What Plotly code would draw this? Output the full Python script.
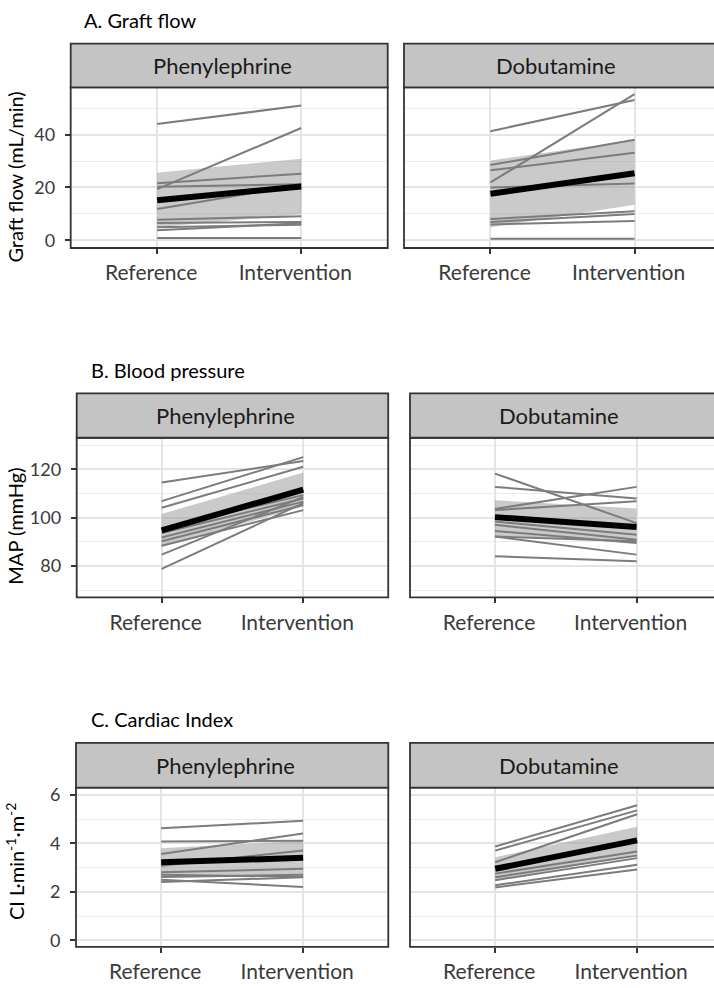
import plotly.graph_objects as go

W, H = 714, 988
FONT = "Lato"

categories = ["Reference", "Intervention"]

# ---- A. Graft flow (mL/min)
graft_phe_ref = [44.0, 19.4, 21.6, 11.9, 20.3, 7.8, 6.6, 5.0, 3.8, 0.9]
graft_phe_int = [51.0, 42.5, 25.2, 21.0, 21.2, 9.1, 6.9, 5.9, 6.5, 0.9]
graft_phe_mean = [15.2, 20.4]
graft_phe_lo = [5.0, 9.9]
graft_phe_hi = [25.6, 30.9]

graft_dob_ref = [41.3, 21.9, 28.5, 26.5, 20.0, 8.1, 6.9, 6.0, 0.6]
graft_dob_int = [53.1, 55.3, 38.1, 33.1, 21.5, 11.0, 10.0, 7.3, 0.6]
graft_dob_mean = [17.6, 25.4]
graft_dob_lo = [5.0, 13.5]
graft_dob_hi = [30.2, 38.0]

# ---- B. Blood pressure (MAP, mmHg)
map_phe_ref = [114.5, 106.8, 104.1, 95.6, 93.6, 91.8, 90.2, 88.4, 84.7, 78.8]
map_phe_int = [123.4, 125.0, 121.0, 109.3, 107.9, 106.6, 105.2, 103.1, 108.5, 106.0]
map_phe_mean = [94.7, 111.6]
map_phe_lo = [88.0, 104.6]
map_phe_hi = [101.5, 118.6]

map_dob_ref = [118.2, 112.7, 103.6, 103.1, 98.4, 97.0, 94.5, 92.2, 92.2, 84.0]
map_dob_int = [97.7, 107.9, 112.7, 106.8, 92.9, 90.8, 89.5, 84.7, 90.2, 82.0]
map_dob_mean = [100.2, 96.1]
map_dob_lo = [92.5, 90.0]
map_dob_hi = [107.2, 103.8]

# ---- C. Cardiac index (L/min/m2)
ci_phe_ref = [4.62, 4.08, 3.56, 3.08, 2.81, 2.70, 2.61, 2.50, 2.40]
ci_phe_int = [4.93, 4.11, 4.41, 3.70, 2.95, 2.62, 2.70, 2.20, 2.60]
ci_phe_mean = [3.22, 3.40]
ci_phe_lo = [2.65, 2.70]
ci_phe_hi = [3.80, 4.10]

ci_dob_ref = [3.87, 3.70, 3.22, 2.75, 2.60, 2.48, 2.27, 2.18]
ci_dob_int = [5.57, 5.36, 5.20, 3.66, 3.50, 3.39, 3.12, 2.92]
ci_dob_mean = [2.95, 4.12]
ci_dob_lo = [2.45, 3.55]
ci_dob_hi = [3.43, 4.68]

facet_labels = ["Phenylephrine", "Dobutamine"]
section_titles = ["A. Graft flow", "B. Blood pressure", "C. Cardiac Index"]
y_titles = ["Graft flow (mL/min)", "MAP (mmHg)", "CI L·min<sup>-1</sup>·m<sup>-2</sup>"]
y_major = [[0, 20, 40], [80, 100, 120], [0, 2, 4, 6]]
y_minor = [[10, 30, 50], [70, 90, 110, 130], [1, 3, 5]]
y_ranges = [[-2.9, 57.9], [67.0, 133.0], [-0.27, 6.3]]

panel_data = [
    [(graft_phe_ref, graft_phe_int, graft_phe_mean, graft_phe_lo, graft_phe_hi),
     (graft_dob_ref, graft_dob_int, graft_dob_mean, graft_dob_lo, graft_dob_hi)],
    [(map_phe_ref, map_phe_int, map_phe_mean, map_phe_lo, map_phe_hi),
     (map_dob_ref, map_dob_int, map_dob_mean, map_dob_lo, map_dob_hi)],
    [(ci_phe_ref, ci_phe_int, ci_phe_mean, ci_phe_lo, ci_phe_hi),
     (ci_dob_ref, ci_dob_int, ci_dob_mean, ci_dob_lo, ci_dob_hi)],
]

# layout geometry (pixels)
rows_geo = [
    dict(strip_top=40, plot_top=84, plot_bottom=246, left=70.7, ppu=144.1, rleft=404,
         title_x=82, title_y=16, ytitle_y=175),
    dict(strip_top=392.5, plot_top=437.3, plot_bottom=598.3, left=76.7, ppu=141.6, rleft=410,
         title_x=89, title_y=369, ytitle_y=527),
    dict(strip_top=745, plot_top=790, plot_bottom=950.5, left=76, ppu=141.95, rleft=410,
         title_x=89, title_y=721, ytitle_y=865),
]

def px(x):
    return x / W

def py(y):
    return 1 - y / H

fig = go.Figure()
shapes = []
annotations = []
GRID = "#e4e4e4"
BORDER = "#333333"

idx = 0
for r, geo in enumerate(rows_geo):
    for c in range(2):
        idx += 1
        xa = "x" if idx == 1 else f"x{idx}"
        ya = "y" if idx == 1 else f"y{idx}"
        ref, inter, mean, lo, hi = panel_data[r][c]
        if c == 0:
            l = geo["left"]
            rr = l + 2.2 * geo["ppu"]
            xrange = [0.4, 2.6]
        else:
            l = geo["rleft"]
            rr = W
            xrange = [0.4, 0.4 + (W - l) / geo["ppu"]]
        # ribbon
        fig.add_trace(go.Scatter(
            x=[1, 2, 2, 1, 1], y=[hi[0], hi[1], lo[1], lo[0], hi[0]],
            mode="lines", fill="toself", fillcolor="rgba(150,150,150,0.5)",
            line=dict(width=0), xaxis=xa, yaxis=ya, showlegend=False, hoverinfo="skip"))
        # individual subjects
        for a, b in zip(ref, inter):
            fig.add_trace(go.Scatter(
                x=[1, 2], y=[a, b], mode="lines",
                line=dict(color="#7c7c7c", width=2),
                xaxis=xa, yaxis=ya, showlegend=False))
        # mean
        fig.add_trace(go.Scatter(
            x=[1, 2], y=mean, mode="lines", line=dict(color="black", width=6),
            xaxis=xa, yaxis=ya, showlegend=False))

        xkey = "xaxis" if idx == 1 else f"xaxis{idx}"
        ykey = "yaxis" if idx == 1 else f"yaxis{idx}"
        fig.layout[xkey] = dict(
            domain=[px(l), min(px(rr), 1.0)], range=xrange, anchor=ya,
            tickmode="array", tickvals=[1, 2], ticktext=categories,
            showgrid=True, gridcolor=GRID, gridwidth=2, zeroline=False,
            ticks="outside", ticklen=5, tickwidth=1.6, tickcolor=BORDER,
            ticklabelshift=-6, ticklabelstandoff=1,
            tickfont=dict(family=FONT, size=21, color="#3a3a3a"),
            showline=False, fixedrange=True)
        fig.layout[ykey] = dict(
            domain=[py(geo["plot_bottom"]), py(geo["plot_top"])], range=y_ranges[r], anchor=xa,
            tickmode="array", tickvals=y_major[r],
            showgrid=True, gridcolor=GRID, gridwidth=2, zeroline=False,
            minor=dict(tickvals=y_minor[r], showgrid=True, gridcolor="#ececec", gridwidth=1.3, ticks=""),
            ticks="outside" if c == 0 else "", ticklen=5, tickwidth=1.6, tickcolor=BORDER,
            showticklabels=(c == 0), ticklabelstandoff=6,
            tickfont=dict(family=FONT, size=18, color="#3a3a3a"),
            showline=False, fixedrange=True)

        x1 = px(rr) if c == 0 else px(W + 12)
        # panel border
        shapes.append(dict(type="rect", xref="paper", yref="paper",
                           x0=px(l), x1=x1, y0=py(geo["plot_bottom"]), y1=py(geo["plot_top"]),
                           line=dict(color=BORDER, width=1.8), fillcolor="rgba(0,0,0,0)", layer="above"))
        # strip
        shapes.append(dict(type="rect", xref="paper", yref="paper",
                           x0=px(l), x1=x1, y0=py(geo["plot_top"]), y1=py(geo["strip_top"]),
                           line=dict(color=BORDER, width=1.8), fillcolor="#c4c4c4", layer="above"))
        strip_cx = (l + (rr if c == 0 else l + 2.2 * geo["ppu"])) / 2 - 7
        annotations.append(dict(
            text=facet_labels[c], xref="paper", yref="paper",
            x=px(strip_cx), y=py((geo["strip_top"] + geo["plot_top"]) / 2),
            xanchor="center", yanchor="middle", showarrow=False,
            font=dict(family=FONT, size=22, color="#1a1a1a")))

    annotations.append(dict(
        text=section_titles[r], xref="paper", yref="paper",
        x=px(geo["title_x"]), y=py(geo["title_y"]), xanchor="left", yanchor="middle",
        showarrow=False, font=dict(family=FONT, size=20, color="black")))
    annotations.append(dict(
        text=y_titles[r], xref="paper", yref="paper",
        x=px(15), y=py(geo["ytitle_y"]), xanchor="center", yanchor="middle",
        textangle=-90, showarrow=False, font=dict(family=FONT, size=20, color="black")))

fig.update_layout(
    width=W, height=H, margin=dict(l=0, r=0, t=0, b=0),
    paper_bgcolor="white", plot_bgcolor="white",
    shapes=shapes, annotations=annotations, showlegend=False,
)

fig.write_html("out.html")
